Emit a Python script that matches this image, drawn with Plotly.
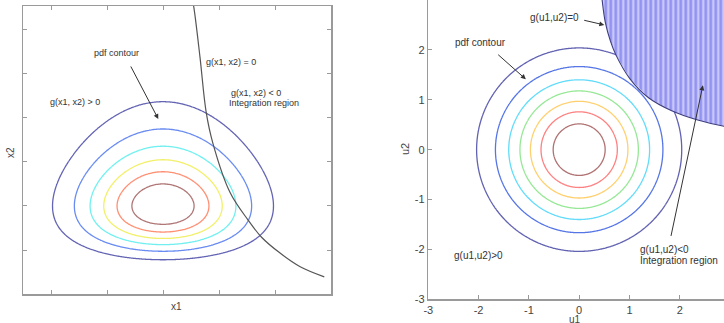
import numpy as np
import plotly.graph_objects as go

W, H = 724, 323

# ---------------- Left panel (x-space) ----------------
# x1 ~ Normal, x2 ~ Gumbel (values in plot units)
x1_mean = 2.5
x1_std = 1.0
x2_mode = 2.0
x2_scale = 0.82
left_level_fractions = [1/7, 2/7, 3/7, 4/7, 5/7, 6/7]
left_colors = ["#6464b4", "#6a8cf2", "#72f0f0", "#f2f06a", "#ff9074", "#b07676"]

# limit state curve g(x1,x2)=0
limit_x1 = [3.02, 3.05, 3.16, 3.27, 3.39, 3.70, 4.02, 4.26, 4.59, 4.95, 5.38]
limit_x2 = [6.70, 6.52, 5.39, 4.14, 3.43, 2.30, 1.68, 1.29, 0.93, 0.62, 0.39]

# ---------------- Right panel (u-space) ----------------
u_mean = 0.0
u_std = 1.0
right_level_fractions = [1/8, 2/8, 3/8, 4/8, 5/8, 6/8, 7/8]
right_colors = ["#6262b2", "#5676e6", "#62dcfa", "#96e896", "#ffd070", "#ff8080", "#b07272"]

# limit state curve g(u1,u2)=0
limit_u1 = [0.44, 0.46, 0.52, 0.62, 0.73, 1.01, 1.38, 1.84, 2.34, 2.88, 3.10]
limit_u2 = [3.20, 2.97, 2.55, 2.18, 1.90, 1.42, 1.04, 0.78, 0.60, 0.47, 0.44]

fig = go.Figure()

# Left pdf grid
gx = np.linspace(0, 5.5, 241)
gy = np.linspace(0, 6.6, 281)
GX, GY = np.meshgrid(gx, gy)
zz = (GY - x2_mode) / x2_scale
pdf_left = (np.exp(-0.5 * ((GX - x1_mean) / x1_std) ** 2) / (np.sqrt(2 * np.pi) * x1_std)
            * np.exp(-(zz + np.exp(-zz))) / x2_scale)
fmax_left = np.exp(-1) / x2_scale / (np.sqrt(2 * np.pi) * x1_std)
for frac, col in zip(left_level_fractions, left_colors):
    lv = frac * fmax_left
    fig.add_trace(go.Contour(
        x=gx, y=gy, z=pdf_left, autocontour=False,
        contours=dict(start=lv, end=lv, size=1, coloring="none"),
        line=dict(color=col, width=1.3, smoothing=1.0),
        showscale=False, hoverinfo="skip", xaxis="x", yaxis="y"))

fig.add_trace(go.Scatter(x=limit_x1, y=limit_x2, mode="lines",
                         line=dict(color="#555555", width=1.2, shape="spline", smoothing=1.0),
                         hoverinfo="skip", xaxis="x", yaxis="y"))

# Right: hatched integration region
reg_u1 = limit_u1 + [3.4, 3.4, limit_u1[0]]
reg_u2 = limit_u2 + [limit_u2[-1], 3.4, 3.4]
fig.add_trace(go.Scatter(x=reg_u1, y=reg_u2, mode="lines", fill="toself",
                         fillcolor="#c4c4fa",
                         fillpattern=dict(shape="|", fgcolor="#5656e6", bgcolor="#c8c8fb",
                                          size=5, solidity=0.5),
                         line=dict(color="rgba(0,0,0,0)", width=0),
                         hoverinfo="skip", xaxis="x2", yaxis="y2"))

gu = np.linspace(-3.2, 3.2, 321)
U1, U2 = np.meshgrid(gu, gu)
pdf_right = np.exp(-0.5 * (((U1 - u_mean) / u_std) ** 2 + ((U2 - u_mean) / u_std) ** 2)) / (2 * np.pi * u_std ** 2)
fmax_right = 1 / (2 * np.pi * u_std ** 2)
for frac, col in zip(right_level_fractions, right_colors):
    lv = frac * fmax_right
    fig.add_trace(go.Contour(
        x=gu, y=gu, z=pdf_right, autocontour=False,
        contours=dict(start=lv, end=lv, size=1, coloring="none"),
        line=dict(color=col, width=1.3, smoothing=1.0),
        showscale=False, hoverinfo="skip", xaxis="x2", yaxis="y2"))

fig.add_trace(go.Scatter(x=limit_u1, y=limit_u2, mode="lines",
                         line=dict(color="#3c3c80", width=1.1, shape="spline"),
                         hoverinfo="skip", xaxis="x2", yaxis="y2"))

axis_gray = "#9a9a9a"
font_fam = "Liberation Sans, Arial, sans-serif"

common = dict(showgrid=False, zeroline=False, showline=True, linecolor=axis_gray,
              linewidth=1.5, ticks="inside", ticklen=4, tickcolor=axis_gray, tickwidth=1,
              automargin=False)

fig.update_layout(
    width=W, height=H,
    margin=dict(l=0, r=0, t=0, b=0, pad=0, autoexpand=False),
    paper_bgcolor="white", plot_bgcolor="white",
    showlegend=False,
    font=dict(family=font_fam, color="#333333"),
    xaxis=dict(domain=[23 / W, 331 / W], range=[0, 5.5], tickvals=[0.5, 1.5, 2.5, 3.5, 4.5],
               showticklabels=False, mirror="ticks", anchor="y", **common),
    yaxis=dict(domain=[1 - 294 / H, 1 - 6 / H], range=[0, 6.545], tickvals=[1, 2, 3, 4, 5, 6],
               showticklabels=False, mirror="ticks", anchor="x", **common),
    xaxis2=dict(domain=[428.3 / W, 1.0], range=[-3, 2.88], tickvals=[-3, -2, -1, 0, 1, 2, 3],
                ticktext=["-3", "-2", "-1", "0", "1", "2", "3"],
                tickfont=dict(size=11, color="#444444"), anchor="y2", **common),
    yaxis2=dict(domain=[1 - 299.3 / H, 1.0], range=[-3, 3], tickvals=[-3, -2, -1, 0, 1, 2, 3],
                ticktext=["-3", "-2", "-1", "0", "1", "2", "3"],
                tickfont=dict(size=11, color="#444444"), anchor="x2", **common),
)

ann = []
tf9 = dict(size=9, color="#333333", family=font_fam)
tf10 = dict(size=10, color="#333333", family=font_fam)

def txt(x, y, s, xref, yref, font, xanchor="left", yanchor="middle", angle=0):
    ann.append(dict(x=x, y=y, text=s, xref=xref, yref=yref, showarrow=False,
                    xanchor=xanchor, yanchor=yanchor, font=font, textangle=angle))

def arrow(x, y, ax, ay, xr, yr):
    ann.append(dict(x=x, y=y, ax=ax, ay=ay, xref=xr, yref=yr, axref=xr, ayref=yr,
                    text="", showarrow=True, arrowhead=2, arrowsize=1.0, arrowwidth=1,
                    arrowcolor="#333333", standoff=0, startstandoff=0))

# left panel labels
txt(1.227, 5.47, "pdf contour", "x", "y", tf9)
arrow(2.416, 3.977, 1.911, 5.205, "x", "y")
txt(3.232, 5.28, "g(x1, x2) = 0", "x", "y", tf9)
txt(3.673, 4.575, "g(x1, x2) < 0", "x", "y", tf9)
txt(3.637, 4.334, "Integration region", "x", "y", tf9)
txt(0.452, 4.37, "g(x1, x2) > 0", "x", "y", tf9)

# right panel labels
txt(-1.02, 2.65, "g(u1,u2)=0", "x2", "y2", tf10)
arrow(0.50, 2.50, 0.07, 2.60, "x2", "y2")
txt(-2.50, 2.14, "pdf contour", "x2", "y2", tf10)
arrow(-1.06, 1.41, -1.64, 1.93, "x2", "y2")
txt(-2.53, -2.13, "g(u1,u2)>0", "x2", "y2", tf10)
txt(1.17, -2.01, "g(u1,u2)<0", "x2", "y2", tf10)
txt(1.17, -2.23, "Integration region", "x2", "y2", tf10)
arrow(2.46, 1.29, 1.82, -1.76, "x2", "y2")

# axis titles
txt(176 / W, 1 - 306 / H, "x1", "paper", "paper", dict(size=10, color="#444444", family=font_fam), xanchor="center")
txt(11 / W, 1 - 153 / H, "x2", "paper", "paper", dict(size=10, color="#444444", family=font_fam), xanchor="center", angle=-90)
txt(575 / W, 1 - 311.5 / H, "u1", "paper", "paper", dict(size=10, color="#444444", family=font_fam), xanchor="center", yanchor="top")
txt(405 / W, 1 - 149 / H, "u2", "paper", "paper", dict(size=11, color="#444444", family=font_fam), xanchor="center", angle=-90)

fig.update_layout(annotations=ann)
fig.write_html("out.html",
               config={"displayModeBar": False, "staticPlot": True},
               post_script="document.body.style.margin='0';document.body.style.overflow='hidden';")
